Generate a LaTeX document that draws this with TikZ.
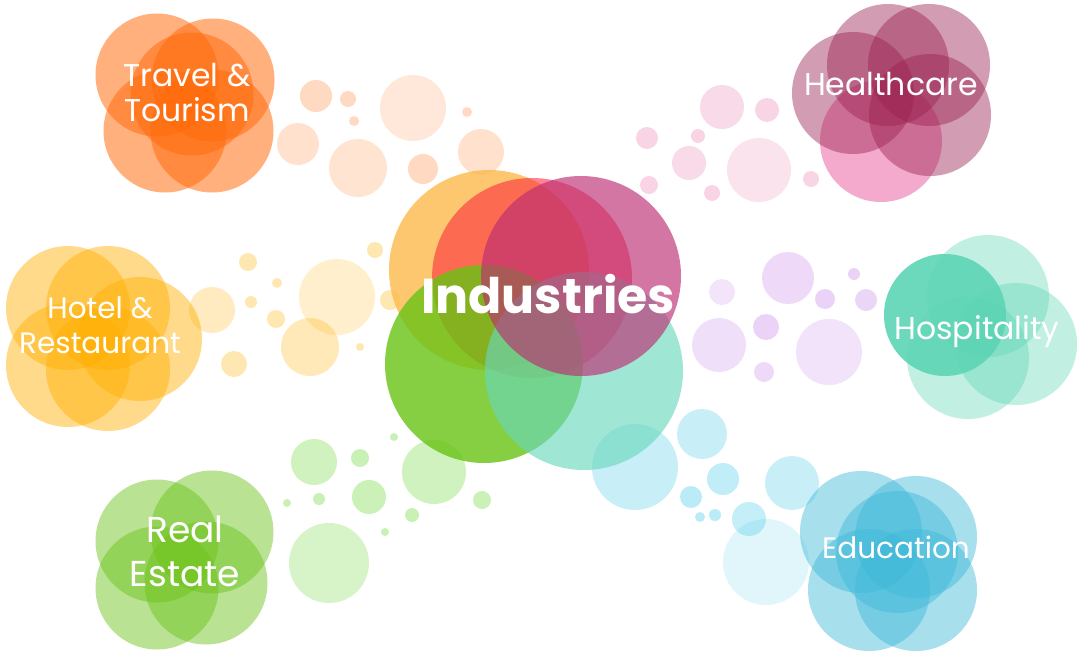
\documentclass[tikz,border=0pt]{standalone}
\usepackage{fontspec}
\setmainfont{Poppins}
\definecolor{travelc}{HTML}{FF6A0A}
\definecolor{healthc}{HTML}{9A2050}
\definecolor{healthp}{HTML}{E8579A}
\definecolor{hotelc}{HTML}{FFB000}
\definecolor{hospc}{HTML}{5DD5B5}
\definecolor{estatec}{HTML}{6CC31A}
\definecolor{educc}{HTML}{3CB9D8}
\definecolor{lilac}{HTML}{BE6EE6}
\definecolor{lime}{HTML}{78DC46}
\definecolor{skyc}{HTML}{3CC8E8}
\definecolor{indorange}{HTML}{FCBA4A}
\definecolor{indred}{HTML}{FF1E3C}
\definecolor{indgreen}{HTML}{68C315}
\definecolor{indteal}{HTML}{69D8BD}
\definecolor{indmag}{HTML}{BC2E72}
\begin{document}
\begin{tikzpicture}[x=1pt,y=-1pt,
  travel/.style={fill=travelc,fill opacity=.53},
  health/.style={fill=healthc,fill opacity=.44},
  hotel/.style={fill=hotelc,fill opacity=.46},
  hosp/.style={fill=hospc,fill opacity=.38},
  estate/.style={fill=estatec,fill opacity=.47},
  educ/.style={fill=educc,fill opacity=.45},
  lbl/.style={text=white,anchor=base,inner sep=0pt,font=\fontsize{31.5}{35}\selectfont},
  biglbl/.style={lbl,font=\fontsize{36}{40}\selectfont},
  smalllbl/.style={lbl,font=\fontsize{29.5}{35}\selectfont}]
\useasboundingbox[fill=white] (0,0) rectangle (1077,656);

% bubbles
\foreach \x/\y/\r/\o in {316/96/16/.25,348/99/8/.25,354/121/5/.25,413/108/33/.15,
  467/112/5/.25,298/144/21/.2,358/168/29/.18,423/169/15/.25,481/152/23/.2}
  \fill[travelc,fill opacity=\o] (\x,\y) circle (\r);
\foreach \x/\y/\r/\o in {722/107/22/.22,767/110/12/.25,647/138/11/.25,698/136/7/.25,
  689/163/17/.22,759/170/32/.16,649/185/9/.25,712/193/8/.25,811/179/8/.25}
  \fill[healthp,fill opacity=\o] (\x,\y) circle (\r);
\foreach \x/\y/\r/\o in {248/262/9/.3,277/283/5/.3,251/302/6/.3,276/319/9/.3,
  212/310/23/.25,234/364/13/.3,337/297/38/.2,310/347/29/.28,360/347/4/.3,
  375/250/8/.3,390/300/10/.3}
  \fill[hotelc,fill opacity=\o] (\x,\y) circle (\r);
\foreach \x/\y/\r/\o in {722/292/13/.18,788/278/26/.25,825/299/10/.3,854/274/6/.3,
  866/300/11/.28,719/345/27/.22,766/327/13/.3,829/352/33/.2,764/372/10/.25}
  \fill[lilac,fill opacity=\o] (\x,\y) circle (\r);
\foreach \x/\y/\r/\o in {394/437/4/.4,314/462/23/.35,360/458/9/.4,369/497/17/.38,
  319/499/6/.4,287/503/4/.4,434/472/32/.35,482/500/9/.38,412/515/7/.4,
  385/532/4/.4,329/563/40/.3}
  \fill[lime,fill opacity=\o] (\x,\y) circle (\r);
\foreach \x/\y/\r/\o in {635/467/43/.28,702/434/25/.28,723/479/16/.32,691/497/11/.35,
  792/483/27/.28,700/517/5/.35,715/515/6/.35,749/519/17/.3,766/562/43/.15}
  \fill[skyc,fill opacity=\o] (\x,\y) circle (\r);

% industries
\fill[indorange,fill opacity=.8] (489,270) circle (100);
\fill[indred,fill opacity=.55] (532,278) circle (100);
\fill[indgreen,fill opacity=.8] (484,364) circle (99);
\fill[indteal,fill opacity=.63] (584,371) circle (99);
\fill[indmag,fill opacity=.65] (581,276) circle (100);
\node[lbl,font=\fontsize{49}{55}\bfseries] (ind) at (548,313) {Industries};

% travel & tourism
\foreach \x/\y in {157/75,213/80,165/131,212/131,192/94}
  \fill[travel] (\x,\y) circle (61.5);
\node[lbl] (travel1) at (187,86) {Travel \&};
\node[lbl] (travel2) at (187,121) {Tourism};

% healthcare
\fill[healthp,fill opacity=.5] (881,141) circle (61);
\foreach \x/\y in {888/65,929/65,853/93,930/115}
  \fill[health] (\x,\y) circle (61);
\node[lbl] (health) at (891,95) {Healthcare};

% hotel & restaurant
\foreach \x/\y in {68/308,108/308,140/339,68/365,108/369}
  \fill[hotel] (\x,\y) circle (62);
\node[smalllbl] (hotel1) at (100,318) {Hotel \&};
\node[smalllbl] (hotel2) at (100,353) {Restaurant};

% hospitality
\foreach \x/\y in {988/296,1016/344,968/358}
  \fill[hosp] (\x,\y) circle (61);
\fill[hospc,fill opacity=.9] (945,315) circle (61);
\node[lbl] (hosp) at (977,339) {Hospitality};

% real estate
\foreach \x/\y in {157/541,212/532,157/588,206/583}
  \fill[estate] (\x,\y) circle (61.5);
\node[biglbl] (estate1) at (185,542) {Real};
\node[biglbl] (estate2) at (185,586) {Estate};

% education
\foreach \x/\y in {861/532,916/537,897/552,869/590,916/590}
  \fill[educ] (\x,\y) circle (61);
\node[smalllbl] (educ) at (896,558) {Education};
\end{tikzpicture}
\end{document}
